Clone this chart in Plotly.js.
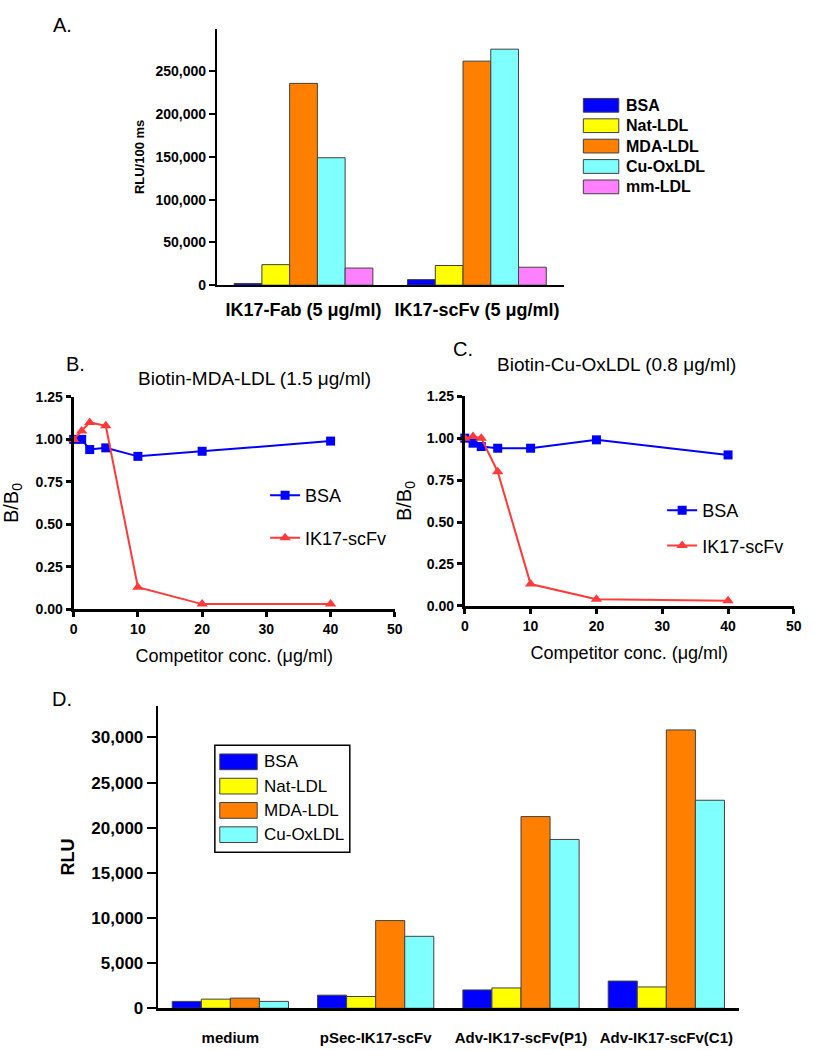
<!DOCTYPE html>
<html><head><meta charset="utf-8">
<script src="https://cdn.plot.ly/plotly-3.0.1.min.js"></script>
<style>html,body{margin:0;padding:0;background:#fff}#chart{width:813px;height:1050px}</style>
</head><body><div id="chart"></div>
<script>
// ---------- Panel A data ----------
const groupsA = ["IK17-Fab (5 μg/ml)", "IK17-scFv (5 μg/ml)"];
const seriesA = ["BSA", "Nat-LDL", "MDA-LDL", "Cu-OxLDL", "mm-LDL"];
const bsaA = [2000, 6500];
const natA = [24000, 23000];
const mdaA = [236000, 262000];
const cuA  = [149000, 276000];
const mmA  = [20000, 21000];
const ticksA = [0, 50000, 100000, 150000, 200000, 250000];

// ---------- Panel B data ----------
const concB  = [0, 1.25, 2.5, 5, 10, 20, 40];
const bsaB   = [1.00, 1.00, 0.94, 0.95, 0.90, 0.93, 0.99];
const scfvB  = [1.00, 1.05, 1.10, 1.08, 0.13, 0.03, 0.03];

// ---------- Panel C data ----------
const concC  = [0, 1.25, 2.5, 5, 10, 20, 40];
const bsaC   = [1.00, 0.97, 0.95, 0.94, 0.94, 0.99, 0.90];
const scfvC  = [1.00, 1.01, 1.00, 0.80, 0.13, 0.04, 0.03];
const seriesBC = ["BSA", "IK17-scFv"];

// ---------- Panel D data ----------
const catsD   = ["medium", "pSec-IK17-scFv", "Adv-IK17-scFv(P1)", "Adv-IK17-scFv(C1)"];
const seriesD = ["BSA", "Nat-LDL", "MDA-LDL", "Cu-OxLDL"];
const bsaD = [760, 1450, 2030, 3010];
const natD = [1010, 1300, 2250, 2360];
const mdaD = [1120, 9710, 21230, 30830];
const cuD  = [760, 7970, 18700, 23040];

// ---------- styles ----------
const W = 813, H = 1050;
const px = x => x / W, py = y => 1 - y / H;
const barColors = ["#0000ff", "#ffff00", "#ff8000", "#80ffff", "#ff80ff"];
const outline = "#404040";
const FONT = "Liberation Sans, Arial, sans-serif";

const valuesA = [bsaA, natA, mdaA, cuA, mmA];
const valuesD = [bsaD, natD, mdaD, cuD];

const traces = [];
valuesA.forEach((v, i) => traces.push({
  type: "bar", x: groupsA, y: v, name: seriesA[i], xaxis: "x", yaxis: "y",
  marker: {color: barColors[i], line: {color: outline, width: 1}}, showlegend: false
}));

const lineStyles = [
  {color: "#0000ff", symbol: "square", size: 9},
  {color: "#ff3a3a", symbol: "triangle-up", size: 10}
];
[bsaB, scfvB].forEach((v, i) => traces.push({
  type: "scatter", mode: "lines+markers", x: concB, y: v, name: seriesBC[i],
  xaxis: "x2", yaxis: "y2", legend: "legend", legendgroup: "b" + i, cliponaxis: false,
  line: {color: lineStyles[i].color, width: 2},
  marker: {color: lineStyles[i].color, symbol: lineStyles[i].symbol, size: lineStyles[i].size}
}));
[bsaC, scfvC].forEach((v, i) => traces.push({
  type: "scatter", mode: "lines+markers", x: concC, y: v, name: seriesBC[i],
  xaxis: "x3", yaxis: "y3", legend: "legend2", legendgroup: "c" + i, cliponaxis: false,
  line: {color: lineStyles[i].color, width: 2},
  marker: {color: lineStyles[i].color, symbol: lineStyles[i].symbol, size: lineStyles[i].size}
}));

valuesD.forEach((v, i) => traces.push({
  type: "bar", x: catsD, y: v, name: seriesD[i], xaxis: "x4", yaxis: "y4",
  marker: {color: barColors[i], line: {color: outline, width: 1}}, showlegend: false
}));

// ---------- custom bar legends (swatches) ----------
const shapes = [];
const annotations = [];
seriesA.forEach((name, i) => {
  const yc = 99 + i * 20.75;
  shapes.push({type: "rect", xref: "paper", yref: "paper",
    x0: px(588), x1: px(624), y0: py(yc + 7), y1: py(yc - 7),
    fillcolor: barColors[i], line: {color: outline, width: 1}});
  annotations.push({xref: "paper", yref: "paper", x: px(629), y: py(yc), xanchor: "left", yanchor: "middle",
    text: name, showarrow: false, font: {family: FONT, size: 16, color: "#000", weight: "bold"}});
});
shapes.push({type: "rect", xref: "paper", yref: "paper", x0: px(214), x1: px(351), y0: py(859), y1: py(750),
  fillcolor: "rgba(0,0,0,0)", line: {color: "#000", width: 1.5}});
seriesD.forEach((name, i) => {
  const yc = 767 + i * 24.7;
  shapes.push({type: "rect", xref: "paper", yref: "paper",
    x0: px(219), x1: px(257), y0: py(yc + 8), y1: py(yc - 8),
    fillcolor: barColors[i], line: {color: outline, width: 1}});
  annotations.push({xref: "paper", yref: "paper", x: px(262), y: py(yc), xanchor: "left", yanchor: "middle",
    text: name, showarrow: false, font: {family: FONT, size: 17, color: "#000"}});
});

// panel letters and titles
const txt = (t, x, y, size, anchor) => ({xref: "paper", yref: "paper", x: px(x), y: py(y),
  xanchor: anchor || "left", yanchor: "middle", text: t, showarrow: false,
  font: {family: FONT, size: size, color: "#000"}});
annotations.push(txt("A.", 48, 17, 20));
annotations.push(txt("B.", 61, 362, 20));
annotations.push(txt("C.", 454, 347, 20));
annotations.push(txt("D.", 47, 703, 20));
annotations.push(txt("Biotin-MDA-LDL (1.5 μg/ml)", 254, 377, 19, "center"));
annotations.push(txt("Biotin-Cu-OxLDL (0.8 μg/ml)", 622, 363, 19, "center"));

const boldTick = s => ({family: FONT, size: s, color: "#000", weight: "bold"});
const base = {showgrid: false, zeroline: false, showline: true, linecolor: "#000", fixedrange: true};

const layout = {
  width: W, height: H, margin: {l: 0, r: 0, t: 0, b: 0},
  paper_bgcolor: "#fff", plot_bgcolor: "rgba(0,0,0,0)",
  font: {family: FONT, color: "#000"},
  barmode: "group", bargap: 0.2, bargroupgap: 0,
  xaxis: Object.assign({}, base, {domain: [px(216), px(568)], anchor: "y", range: [-0.5, 1.5],
    linewidth: 2, ticks: "", tickfont: boldTick(18), ticklabelstandoff: 7}),
  yaxis: Object.assign({}, base, {domain: [py(282), py(21)], anchor: "x", range: [0, 300000],
    tickvals: ticksA, tickformat: ",d", ticks: "outside", ticklen: 6, tickwidth: 2, tickcolor: "#000",
    linewidth: 2, tickfont: boldTick(14), automargin: true,
    title: {text: "RLU/100 ms", font: {family: FONT, size: 13, color: "#000", weight: "bold"}, standoff: 8}}),
  xaxis2: Object.assign({}, base, {domain: [px(70.7), px(396.7)], anchor: "y2", range: [0, 50], dtick: 10,
    ticks: "outside", ticklen: 5, tickwidth: 3, tickcolor: "#000", linewidth: 3, tickfont: boldTick(14), automargin: true,
    title: {text: "Competitor conc. (μg/ml)", font: {family: FONT, size: 18, color: "#000"}, standoff: 14}}),
  yaxis2: Object.assign({}, base, {domain: [py(611.7), py(395.7)], anchor: "x2", range: [0, 1.25], dtick: 0.25,
    tickformat: ".2f", ticks: "outside", ticklen: 5, tickwidth: 3, tickcolor: "#000", linewidth: 3, tickfont: boldTick(14), automargin: true,
    title: {text: "B/B<sub>0</sub>", font: {family: FONT, size: 20, color: "#000"}, standoff: 14}}),
  xaxis3: Object.assign({}, base, {domain: [px(467.7), px(801.7)], anchor: "y3", range: [0, 50], dtick: 10,
    ticks: "outside", ticklen: 5, tickwidth: 3, tickcolor: "#000", linewidth: 3, tickfont: boldTick(14), automargin: true,
    title: {text: "Competitor conc. (μg/ml)", font: {family: FONT, size: 18, color: "#000"}, standoff: 14}}),
  yaxis3: Object.assign({}, base, {domain: [py(608.3), py(395)], anchor: "x3", range: [0, 1.25], dtick: 0.25,
    tickformat: ".2f", ticks: "outside", ticklen: 5, tickwidth: 3, tickcolor: "#000", linewidth: 3, tickfont: boldTick(14), automargin: true,
    title: {text: "B/B<sub>0</sub>", font: {family: FONT, size: 20, color: "#000"}, standoff: 10}}),
  xaxis4: Object.assign({}, base, {domain: [px(156), px(746)], anchor: "y4", range: [-0.5, 3.5],
    linewidth: 3, ticks: "", tickfont: boldTick(15), ticklabelstandoff: 14}),
  yaxis4: Object.assign({}, base, {domain: [py(1017.7), py(710)], anchor: "x4", range: [0, 33500], dtick: 5000,
    tickformat: ",d", ticks: "outside", ticklen: 9, tickwidth: 2, tickcolor: "#000", linewidth: 2,
    tickfont: boldTick(17), automargin: true,
    title: {text: "RLU", font: {family: FONT, size: 18, color: "#000", weight: "bold"}, standoff: 12}}),
  legend: {x: px(265), y: py(517.5), xanchor: "left", yanchor: "middle", bgcolor: "rgba(0,0,0,0)",
    font: {family: FONT, size: 18, color: "#000"}, tracegroupgap: 16, borderwidth: 0},
  legend2: {x: px(668), y: py(529), xanchor: "left", yanchor: "middle", bgcolor: "rgba(0,0,0,0)",
    font: {family: FONT, size: 18, color: "#000"}, tracegroupgap: 9, borderwidth: 0},
  shapes: shapes,
  annotations: annotations
};

Plotly.newPlot("chart", traces, layout, {staticPlot: true, displayModeBar: false});
</script>
</body></html>
